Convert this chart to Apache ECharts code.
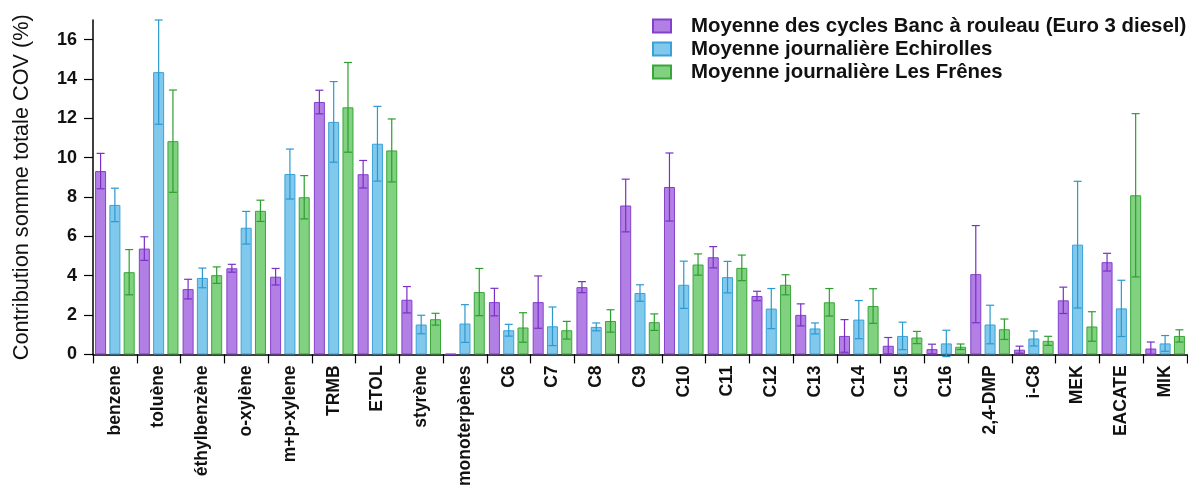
<!DOCTYPE html>
<html>
<head>
<meta charset="utf-8">
<script src="https://cdn.jsdelivr.net/npm/echarts@6/dist/echarts.min.js"></script>
<style>
html,body{margin:0;padding:0;background:#fff;}
#chart{width:1188px;height:489px;}
</style>
</head>
<body>
<div id="chart"></div>
<script>
const categories = ['benzene','toluène','éthylbenzène','o-xylène','m+p-xylene','TRMB','ETOL','styrène','monoterpènes','C6','C7','C8','C9','C10','C11','C12','C13','C14','C15','C16','2,4-DMP','i-C8','MEK','EACATE','MIK'];
const seriesNames = ['Moyenne des cycles Banc à rouleau (Euro 3 diesel)','Moyenne journalière Echirolles','Moyenne journalière Les Frênes'];
const banc = [9.32, 5.38, 3.32, 4.38, 3.95, 12.83, 9.16, 2.78, 0.03, 2.66, 2.66, 3.42, 7.57, 8.51, 4.94, 2.97, 2.01, 0.94, 0.44, 0.27, 4.08, 0.24, 2.75, 4.69, 0.30];
const bancErr = [0.9, 0.6, 0.5, 0.2, 0.42, 0.6, 0.7, 0.67, 0, 0.7, 1.33, 0.28, 1.34, 1.73, 0.54, 0.24, 0.56, 0.83, 0.42, 0.25, 2.47, 0.18, 0.67, 0.45, 0.33];
const echirolles = [7.60, 14.35, 3.89, 6.44, 9.17, 11.82, 10.71, 1.52, 1.57, 1.23, 1.43, 1.40, 3.12, 3.54, 3.93, 2.33, 1.32, 1.77, 0.94, 0.56, 1.52, 0.81, 5.58, 2.34, 0.56];
const echirollesErr = [0.85, 2.65, 0.5, 0.83, 1.27, 2.05, 1.9, 0.47, 0.96, 0.3, 0.98, 0.2, 0.42, 1.2, 0.8, 1.02, 0.28, 0.97, 0.7, 0.67, 0.98, 0.38, 3.22, 1.43, 0.4];
const frenes = [4.18, 10.84, 4.03, 7.30, 7.99, 12.56, 10.37, 1.79, 3.17, 1.37, 1.23, 1.70, 1.64, 4.57, 4.40, 3.54, 2.65, 2.46, 0.86, 0.39, 1.28, 0.69, 1.42, 8.09, 0.94];
const frenesErr = [1.15, 2.6, 0.42, 0.54, 1.1, 2.28, 1.6, 0.3, 1.2, 0.75, 0.45, 0.57, 0.42, 0.54, 0.65, 0.51, 0.7, 0.88, 0.31, 0.14, 0.52, 0.23, 0.75, 4.15, 0.31];
const yTicks = [0, 2, 4, 6, 8, 10, 12, 14, 16];

const fills = ['#b27fe4', '#80c8ec', '#80d180'];
const borders = ['#8440cc', '#3aa2d8', '#3aa63a'];
const errColors = ['#7a30c4', '#2c98d0', '#2e9e2e'];
const FONT = '"Liberation Sans", Arial, sans-serif';
const BAR_W = 11, BAR_GAP = 0.3;

const values = [banc, echirolles, frenes];
const errs = [bancErr, echirollesErr, frenesErr];

const series = [];
values.forEach((vals, s) => {
  series.push({
    name: seriesNames[s],
    type: 'bar',
    barWidth: BAR_W,
    barGap: (BAR_GAP * 100) + '%',
    data: vals,
    itemStyle: { color: fills[s], borderColor: borders[s], borderWidth: 1 },
    emphasis: { disabled: true },
    z: 2
  });
});
values.forEach((vals, s) => {
  const step = BAR_W * (1 + BAR_GAP);
  const offset = (s - 1) * step;
  series.push({
    name: 'err' + s,
    type: 'custom',
    z: 5,
    silent: true,
    encode: { x: 0, y: 1 },
    data: vals.map((v, i) => [i, v, errs[s][i]]),
    renderItem: function (params, api) {
      const i = api.value(0), v = api.value(1), e = api.value(2);
      if (!e) return null;
      const hi = api.coord([i, v + e]);
      const lo = api.coord([i, v - e]);
      const x = hi[0] + offset;
      const cap = 4;
      const st = { stroke: errColors[s], lineWidth: 1.2, fill: null };
      return {
        type: 'group',
        children: [
          { type: 'line', shape: { x1: x, y1: hi[1], x2: x, y2: lo[1] }, style: st },
          { type: 'line', shape: { x1: x - cap, y1: hi[1], x2: x + cap, y2: hi[1] }, style: st },
          { type: 'line', shape: { x1: x - cap, y1: lo[1], x2: x + cap, y2: lo[1] }, style: st }
        ]
      };
    }
  });
});

const chart = echarts.init(document.getElementById('chart'), null, { renderer: 'canvas' });
chart.setOption({
  animation: false,
  backgroundColor: '#fff',
  textStyle: { fontFamily: FONT },
  grid: { left: 93, right: 1, top: 20, bottom: 133, containLabel: false },
  legend: {
    data: seriesNames,
    orient: 'vertical',
    left: 652,
    top: 16,
    padding: 0,
    icon: 'rect',
    itemWidth: 18,
    itemHeight: 13,
    itemGap: 3,
    selectedMode: false,
    textStyle: { fontFamily: FONT, fontSize: 20.4, fontWeight: 'bold', color: '#111', padding: [0, 0, 0, 15], lineHeight: 20 }
  },
  xAxis: {
    type: 'category',
    data: categories,
    boundaryGap: true,
    axisLine: { lineStyle: { color: '#000', width: 1.5 } },
    axisTick: { show: true, alignWithLabel: false, length: 9, inside: false, lineStyle: { color: '#000', width: 1.2 } },
    axisLabel: { rotate: 90, interval: 0, margin: 11, fontFamily: FONT, fontSize: 17.5, fontWeight: 'bold', color: '#111' }
  },
  yAxis: {
    type: 'value',
    min: 0,
    max: 17,
    interval: 2,
    name: 'Contribution somme totale COV (%)',
    nameLocation: 'middle',
    nameGap: 60,
    nameTextStyle: { fontFamily: FONT, fontSize: 21.7, color: '#111' },
    axisLine: { show: true, lineStyle: { color: '#000', width: 1.5 } },
    axisTick: { show: true, length: 9, customValues: yTicks, lineStyle: { color: '#000', width: 1.2 } },
    axisLabel: { customValues: yTicks, margin: 16, fontFamily: FONT, fontSize: 18, fontWeight: 'bold', color: '#111' },
    splitLine: { show: false }
  },
  series: series
});
</script>
</body>
</html>
